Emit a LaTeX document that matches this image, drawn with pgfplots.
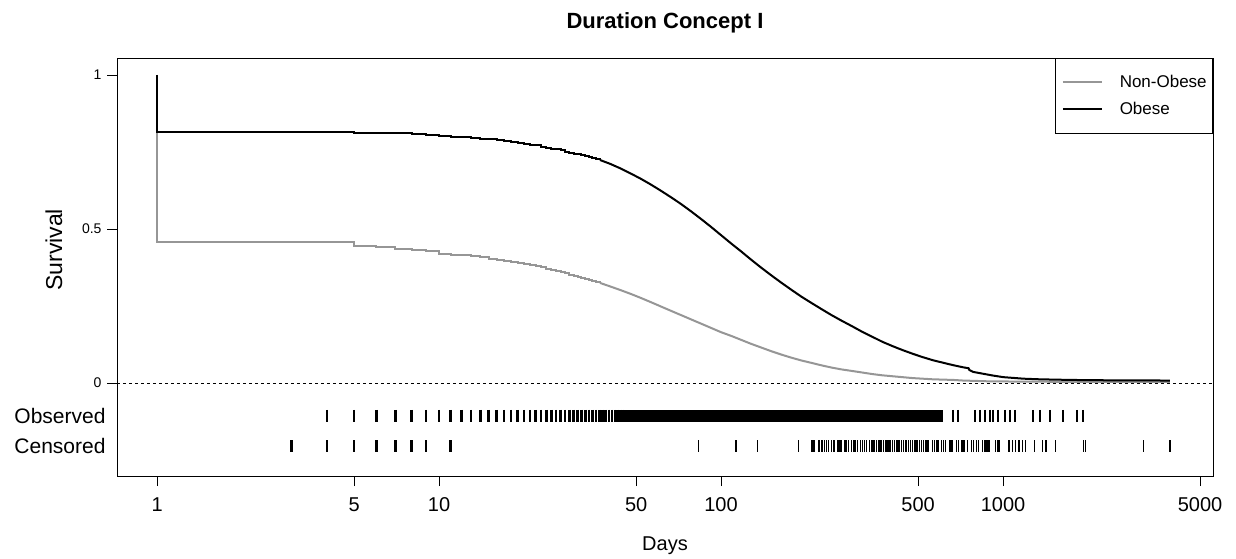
\documentclass[border=0pt]{standalone}
\usepackage{pgfplots}
\pgfplotsset{compat=1.18}
\usepackage{fontspec}
\setmainfont{Liberation Sans}
\definecolor{curvegray}{RGB}{150,150,150}
\newcommand{\rugfont}{\fontsize{21}{21}\selectfont}
\begin{document}
\begin{tikzpicture}
\begin{axis}[
  scale only axis, width=1096pt, height=418pt,
  xmode=log, xmin=0.721, xmax=5556, ymin=-0.302, ymax=1.055,
  xtick={1,5,10,50,100,500,1000,5000},
  xticklabels={1,5,10,50,100,500,1000,5000},
  xminorticks=false,
  ytick={0,0.5,1}, yticklabels={0,0.5,1},
  extra y ticks={-0.107,-0.205},
  extra y tick labels={\rugfont Observed,\rugfont Censored},
  extra y tick style={major tick length=0pt, yticklabel style={xshift=-6pt}},
  xtick pos=bottom, ytick pos=left,
  tick align=outside, major tick length=10pt,
  every tick/.style={black, line width=0.8pt},
  axis line style={line width=0.8pt},
  /pgf/number format/assume math mode=true,
  xticklabel style={font=\fontsize{20}{20}\selectfont, yshift=-8pt},
  yticklabel style={font=\fontsize{14}{14}\selectfont, xshift=-2pt},
  title={Duration Concept I},
  title style={at={(axis description cs:0.5,1)}, anchor=center, yshift=29pt, font=\bfseries\fontsize{22}{22}\selectfont},
  xlabel={Days},
  xlabel style={at={(axis description cs:0.5,0)}, anchor=center, yshift=-70pt, font=\fontsize{20}{20}\selectfont},
  ylabel={Survival},
  ylabel style={at={([xshift=-63pt]axis description cs:0,0.541)}, anchor=center, font=\fontsize{23}{23}\selectfont},
  legend style={at={(rel axis cs:1,1)}, anchor=north east, draw=black, line width=0.6pt,
    font=\fontsize{17}{17}\selectfont, nodes={inner sep=0pt}, row sep=13pt,
    inner xsep=6pt, inner ysep=17pt, column sep=17pt},
  legend cell align=left,
  legend image code/.code={\path (0pt,0pt) -- (8pt,0pt); \draw[#1, line width=2pt] (8pt,0pt) -- (39pt,0pt);},
]
% zero line
\addplot[black, dashed, line width=0.6pt, forget plot] coordinates {(0.721,0) (5556,0)};
% Non-Obese
\addplot[const plot, curvegray, line width=2pt] coordinates {
(1,1) (1,0.458) (5,0.445) (6,0.440) (7,0.436) (8,0.432) (9,0.428) (10,0.420)
(11,0.417) (12,0.414) (13,0.411) (14,0.408) (15,0.404) (16,0.400) (17,0.397)
(18,0.393) (19,0.390) (20,0.386) (21,0.383) (22,0.379) (23,0.375) (24,0.371)
(25,0.367) (26,0.364) (27,0.360) (28,0.356) (29,0.352) (30,0.348) (31,0.345)
(32,0.341) (33,0.338) (34,0.335) (35,0.331) (36,0.328) (37.2,0.325)};
\addlegendentry{Non-Obese}
\addplot[curvegray, line width=2pt, forget plot] coordinates {
(37.2,0.325) (40.3,0.314) (43.9,0.302) (47.6,0.290) (51.7,0.277) (56.2,0.263)
(61.0,0.249) (66.2,0.235) (71.9,0.221) (78.1,0.207) (84.8,0.193) (92.1,0.179)
(100,0.165) (108.6,0.153) (117.9,0.140) (128,0.127) (139,0.115) (151,0.103)
(164,0.092) (178,0.082) (193,0.073) (210,0.065) (228,0.057) (247,0.050)
(268,0.044) (292,0.039) (317,0.034) (344,0.029) (373,0.025) (405,0.022)
(440,0.019) (478,0.016) (519,0.014) (564,0.012) (612,0.011) (665,0.010)
(722,0.008) (784,0.007) (851,0.006) (924,0.005) (1003,0.005) (1500,0.004)
(3910,0.004)};
% Obese
\addplot[const plot, black, line width=2pt] coordinates {
(1,1) (1,0.815) (5,0.813) (6,0.812) (7,0.810) (8,0.808) (9,0.805) (10,0.802)
(11,0.800) (12,0.797) (13,0.795) (14,0.793) (15,0.791) (16,0.789) (17,0.786)
(18,0.783) (19,0.780) (20,0.777) (21,0.774) (22,0.771) (23,0.767) (24,0.764)
(25,0.761) (26,0.758) (27,0.755) (28,0.751) (29,0.748) (30,0.745) (31,0.742)
(32,0.739) (33,0.736) (34,0.733) (35,0.730) (36,0.727) (37.2,0.724)};
\addlegendentry{Obese}
\addplot[black, line width=2pt, forget plot] coordinates {
(37.2,0.724) (40.3,0.712) (43.9,0.697) (47.6,0.681) (51.7,0.664) (56.2,0.645)
(61.0,0.625) (66.2,0.604) (71.9,0.582) (78.1,0.558) (84.8,0.533) (92.1,0.507)
(100,0.480) (108.6,0.453) (117.9,0.427) (128,0.400) (139,0.374) (151,0.349)
(164,0.325) (178,0.302) (193,0.280) (210,0.259) (228,0.239) (247,0.220)
(268,0.202) (292,0.184) (317,0.166) (344,0.150) (373,0.134) (405,0.120)
(440,0.107) (478,0.095) (519,0.084) (564,0.074) (612,0.066) (665,0.058)
(722,0.051) (755,0.048) (760,0.042) (784,0.036) (851,0.030) (924,0.024) (1003,0.019)
(1183,0.014) (1352,0.012) (1728,0.010) (2208,0.009) (3910,0.008)};
% Observed rug
\addplot[only marks, mark=|, mark size=6pt, mark options={line width=2.5pt}, black, forget plot] coordinates {
(4,-0.107) (5,-0.107) (6,-0.107) (7,-0.107) (8,-0.107) (9,-0.107) (10,-0.107)
(11,-0.107) (12,-0.107) (13,-0.107) (14,-0.107) (15,-0.107) (16,-0.107) (17,-0.107)
(18,-0.107) (19,-0.107) (20,-0.107) (21,-0.107) (22,-0.107) (23,-0.107) (24,-0.107)
(25,-0.107) (26,-0.107) (27,-0.107) (28,-0.107) (29,-0.107) (30,-0.107) (31,-0.107)
(32,-0.107) (33,-0.107) (34,-0.107) (35,-0.107) (36,-0.107) (37,-0.107) (38,-0.107)
(39,-0.107) (40,-0.107) (41,-0.107) (42,-0.107) (43,-0.107) (44,-0.107) (45,-0.107)};
\addplot[fill=black, draw=none, forget plot] coordinates {
(45,-0.0875) (612,-0.0875) (612,-0.1265) (45,-0.1265)} -- cycle;
\addplot[only marks, mark=|, mark size=6pt, mark options={line width=1.5pt}, black, forget plot] coordinates {
(665,-0.107) (692,-0.107) (796,-0.107) (829,-0.107) (863,-0.107) (899,-0.107)
(922,-0.107) (960,-0.107) (1016,-0.107) (1059,-0.107) (1103,-0.107) (1278,-0.107)
(1353,-0.107) (1468,-0.107) (1633,-0.107) (1830,-0.107) (1922,-0.107)};
% Censored rug
\addplot[only marks, mark=|, mark size=6pt, mark options={line width=2.5pt}, black, forget plot] coordinates {
(3,-0.205) (4,-0.205) (5,-0.205) (6,-0.205) (7,-0.205) (8,-0.205) (9,-0.205) (11,-0.205)};
\addplot[only marks, mark=|, mark size=6pt, mark options={line width=1.2pt}, black, forget plot] coordinates {
(83,-0.205) (113,-0.205) (135,-0.205) (188,-0.205)
(210,-0.205) (212,-0.205) (215,-0.205) (221,-0.205) (224,-0.205) (228,-0.205)
(233,-0.205) (236,-0.205) (240,-0.205) (247,-0.205) (250,-0.205) (253,-0.205)
(260,-0.205) (264,-0.205) (268,-0.205) (275,-0.205) (279,-0.205) (283,-0.205)
(291,-0.205) (296,-0.205) (300,-0.205) (304,-0.205) (313,-0.205) (318,-0.205)
(322,-0.205) (327,-0.205) (336,-0.205) (341,-0.205) (346,-0.205) (351,-0.205)
(356,-0.205) (361,-0.205) (366,-0.205) (372,-0.205) (377,-0.205) (383,-0.205)
(388,-0.205) (394,-0.205) (400,-0.205) (406,-0.205) (412,-0.205) (418,-0.205)
(424,-0.205) (430,-0.205) (437,-0.205) (443,-0.205) (450,-0.205) (456,-0.205)
(463,-0.205) (470,-0.205) (477,-0.205) (484,-0.205) (491,-0.205) (499,-0.205)
(506,-0.205) (514,-0.205) (522,-0.205) (530,-0.205) (538,-0.205) (546,-0.205)
(562,-0.205) (571,-0.205) (580,-0.205) (588,-0.205) (606,-0.205) (616,-0.205)
(625,-0.205) (644,-0.205) (654,-0.205) (664,-0.205) (684,-0.205) (694,-0.205)
(716,-0.205) (727,-0.205) (749,-0.205) (772,-0.205) (784,-0.205) (808,-0.205)
(820,-0.205) (845,-0.205) (858,-0.205) (871,-0.205) (884,-0.205) (897,-0.205)
(939,-0.205) (953,-0.205) (968,-0.205)
(1050,-0.205) (1080,-0.205) (1110,-0.205) (1140,-0.205) (1170,-0.205) (1200,-0.205)
(1290,-0.205) (1380,-0.205) (1420,-0.205) (1540,-0.205) (1930,-0.205) (1960,-0.205)
(3140,-0.205) (3910,-0.205)};
\end{axis}
\pgfresetboundingbox
\path[use as bounding box] ([xshift=-117pt,yshift=-82pt]current axis.south west) rectangle ([xshift=23pt,yshift=58pt]current axis.north east);
\end{tikzpicture}
\end{document}
